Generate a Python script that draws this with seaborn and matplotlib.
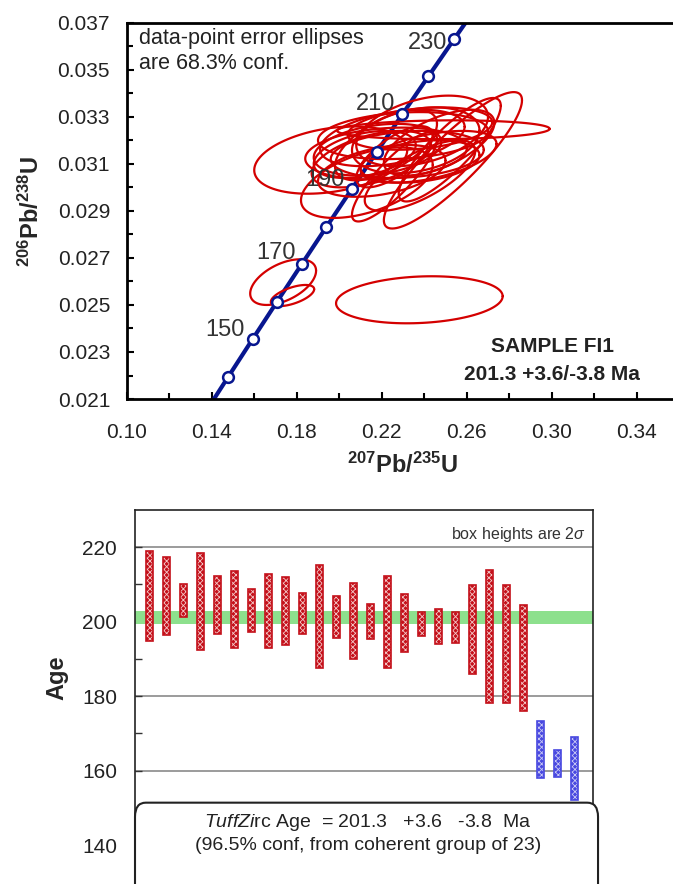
import numpy as np
import pandas as pd
import matplotlib
matplotlib.use("Agg")
import matplotlib.pyplot as plt
import seaborn as sns
from matplotlib.patches import FancyBboxPatch
from matplotlib.ticker import FixedLocator, FormatStrFormatter

# concordia markers (Ma) and their ratios
conc_age = [140, 150, 160, 170, 180, 190, 200, 210, 220, 230]
conc_207 = [0.14784, 0.15920, 0.17067, 0.18226, 0.19396, 0.20577, 0.21771, 0.22976, 0.24193, 0.25422]
conc_206 = [0.021955, 0.023542, 0.025131, 0.026722, 0.028316, 0.029912, 0.031511, 0.033113, 0.034717, 0.036323]
conc_labels = [150, 170, 190, 210, 230]
# line end points beyond the markers
line_207 = [0.14107] + conc_207 + [0.26166]
line_206 = [0.021005] + conc_206 + [0.037288]

# error ellipses: centre x, centre y, half width x, half height y, correlation
ell_cx = [0.196, 0.213, 0.222, 0.226, 0.2535, 0.249, 0.239, 0.252, 0.218, 0.225, 0.232, 0.215,
          0.236, 0.242, 0.222, 0.230, 0.212, 0.238, 0.226, 0.247, 0.238, 0.220, 0.238,
          0.2377, 0.1736, 0.1780]
ell_cy = [0.03116, 0.03020, 0.03144, 0.03045, 0.03115, 0.03245, 0.03240, 0.03160, 0.03160, 0.03210,
          0.03140, 0.03120, 0.03200, 0.03130, 0.03180, 0.03220, 0.03140, 0.03110, 0.03130, 0.03190,
          0.03250, 0.03070, 0.03050, 0.02522, 0.02597, 0.02540]
ell_sx = [0.0360, 0.0310, 0.0380, 0.0200, 0.0325, 0.0500, 0.0310, 0.0240, 0.0300, 0.0340, 0.0360,
          0.0280, 0.0300, 0.0320, 0.0240, 0.0400, 0.0240, 0.0280, 0.0180, 0.0260, 0.0340, 0.0300,
          0.0260, 0.0392, 0.0155, 0.0102]
ell_sy = [0.00143, 0.00150, 0.00110, 0.00190, 0.00290, 0.00040, 0.00150, 0.00220, 0.00110, 0.00120,
          0.00100, 0.00120, 0.00140, 0.00110, 0.00150, 0.00100, 0.00100, 0.00090, 0.00130, 0.00140,
          0.00090, 0.00110, 0.00150, 0.00100, 0.00097, 0.00045]
ell_rho = [0.30, 0.50, 0.20, 0.85, 0.88, 0.10, 0.40, 0.85, 0.30, 0.40, 0.20, 0.50, 0.30, 0.50,
           0.60, 0.20, 0.40, 0.30, 0.70, 0.60, 0.30, 0.40, 0.70, 0.15, 0.50, 0.60]

# ages with 2 sigma box limits
age_lo = [194.7, 196.3, 201.2, 192.4, 196.6, 193.0, 197.3, 193.0, 193.7, 196.8, 187.5, 195.6, 190.1,
          195.4, 187.5, 191.9, 196.2, 194.0, 194.4, 186.0, 178.1, 178.1, 176.1, 157.9, 158.2, 152.2]
age_hi = [219.1, 217.3, 210.1, 218.4, 212.3, 213.6, 208.8, 212.9, 211.9, 207.8, 215.1, 207.0, 210.3,
          204.8, 212.2, 207.4, 202.6, 203.5, 202.6, 209.8, 214.0, 209.8, 204.6, 173.2, 165.4, 168.9]
n_coherent = 23
band_lo, band_hi = 199.5, 202.9

x_ticks = [0.10, 0.14, 0.18, 0.22, 0.26, 0.30, 0.34]
y_ticks = [0.021, 0.023, 0.025, 0.027, 0.029, 0.031, 0.033, 0.035, 0.037]

sns.set_theme(style="white")
plt.rcParams["font.family"] = ["Liberation Sans", "DejaVu Sans"]
plt.rcParams["mathtext.fontset"] = "custom"
plt.rcParams["mathtext.rm"] = "Liberation Sans"
plt.rcParams["mathtext.it"] = "Liberation Sans:italic"
plt.rcParams["mathtext.bf"] = "Liberation Sans:bold"
plt.rcParams["hatch.linewidth"] = 0.6

fig = plt.figure(figsize=(6.73, 8.84), dpi=100)

# ---------------- concordia plot ----------------
ax1 = fig.add_axes([0.1883, 0.5486, 0.821, 0.4257])
t = np.linspace(0, 2 * np.pi, 120)
rows = []
for i in range(len(ell_cx)):
    ex = ell_cx[i] + ell_sx[i] * np.cos(t)
    ey = ell_cy[i] + ell_sy[i] * (ell_rho[i] * np.cos(t) + np.sqrt(1 - ell_rho[i] ** 2) * np.sin(t))
    rows.append(pd.DataFrame({"x": ex, "y": ey, "id": i}))
ell_df = pd.concat(rows)
sns.lineplot(data=ell_df, x="x", y="y", units="id", estimator=None, sort=False,
             color="#d40000", lw=1.6, ax=ax1, zorder=3)

sns.lineplot(x=line_207, y=line_206, sort=False, color="#08168f", lw=3.0, ax=ax1, zorder=2)
sns.scatterplot(x=conc_207, y=conc_206, marker="o", s=60, facecolor="white",
                edgecolor="#08168f", linewidth=1.8, ax=ax1, zorder=4)
label_offsets = {150: (-6, 7), 170: (-4, 8), 190: (-5, 7), 210: (-5, 7), 230: (-5, -3)}
for a, x, y in zip(conc_age, conc_207, conc_206):
    if a in conc_labels:
        ax1.annotate(str(a), (x, y), xytext=label_offsets[a], textcoords="offset points",
                     ha="right", va="center", fontsize=17, color="#333333", zorder=5)

ax1.set_xlim(0.10, 0.36)
ax1.set_ylim(0.021, 0.037)
ax1.xaxis.set_major_locator(FixedLocator(x_ticks))
ax1.xaxis.set_minor_locator(FixedLocator([v + 0.02 for v in x_ticks]))
ax1.yaxis.set_major_locator(FixedLocator(y_ticks))
ax1.yaxis.set_minor_locator(FixedLocator([v + 0.001 for v in y_ticks[:-1]]))
ax1.xaxis.set_major_formatter(FormatStrFormatter("%.2f"))
ax1.yaxis.set_major_formatter(FormatStrFormatter("%.3f"))
ax1.tick_params(which="both", direction="in", width=1.5, colors="black", labelcolor="#222222",
                bottom=True, left=True, top=False, right=False)
ax1.tick_params(which="major", length=5, labelsize=15)
ax1.tick_params(which="minor", length=4)
ax1.tick_params(axis="x", pad=17)
ax1.tick_params(axis="y", pad=12)
for s in ax1.spines.values():
    s.set_linewidth(2)
    s.set_color("black")
ax1.spines["right"].set_visible(False)
ax1.set_xlabel(r"$^{\mathbf{207}}$Pb/$^{\mathbf{235}}$U", fontsize=17, fontweight="bold", labelpad=8)
ax1.set_ylabel(r"$^{\mathbf{206}}$Pb/$^{\mathbf{238}}$U", fontsize=17, fontweight="bold", labelpad=10)

ax1.text(0.022, 0.985, "data-point error ellipses\nare 68.3% conf.", transform=ax1.transAxes,
         ha="left", va="top", fontsize=15.5, color="#222222", linespacing=1.25)
ax1.text(0.77, 0.14, "SAMPLE FI1", transform=ax1.transAxes, ha="center", va="center",
         fontsize=15, fontweight="bold", color="#222222")
ax1.text(0.77, 0.065, "201.3 +3.6/-3.8 Ma", transform=ax1.transAxes, ha="center", va="center",
         fontsize=15, fontweight="bold", color="#222222")

# ---------------- age boxes ----------------
ax2 = fig.add_axes([0.2006, 0.0441, 0.6805, 0.379])
pos = np.arange(1, len(age_lo) + 1)
ax2.axhspan(band_lo, band_hi, color="#8de08d", zorder=1, lw=0)
for yv in [160, 180, 220]:
    ax2.axhline(yv, color="#8a8a8a", lw=1.2, zorder=0.5)

box_df = pd.DataFrame({"pos": pos, "lo": age_lo, "hi": age_hi})
box_df["grp"] = ["coherent" if i < n_coherent else "rejected" for i in range(len(box_df))]
colors = {"coherent": "#c4101a", "rejected": "#4848e0"}
for grp, sub in box_df.groupby("grp"):
    ax2.bar(sub["pos"], sub["hi"] - sub["lo"], bottom=sub["lo"], width=0.4,
            color=colors[grp], hatch="xxxxxx", edgecolor="#f4c8c8" if grp == "coherent" else "#c8c8f4",
            linewidth=0, zorder=3)
    ax2.bar(sub["pos"], sub["hi"] - sub["lo"], bottom=sub["lo"], width=0.4,
            fill=False, edgecolor=colors[grp], linewidth=1.2, zorder=4)

ax2.set_xlim(0.16, 27.1)
ax2.set_ylim(140, 230)
ax2.set_xticks([])
ax2.yaxis.set_major_locator(FixedLocator([140, 160, 180, 200, 220]))
ax2.yaxis.set_minor_locator(FixedLocator([150, 170, 190, 210]))
ax2.tick_params(axis="y", which="both", direction="in", left=True, width=1, colors="#333333",
                labelcolor="#222222")
ax2.tick_params(axis="y", which="major", length=5, labelsize=15, pad=13)
ax2.tick_params(axis="y", which="minor", length=5)
for s in ax2.spines.values():
    s.set_linewidth(1.2)
    s.set_color("#222222")
ax2.spines["bottom"].set_visible(False)
ax2.set_ylabel("Age", fontsize=17, fontweight="bold", labelpad=10)
ax2.text(0.985, 0.955, r"box heights are 2$\sigma$", transform=ax2.transAxes, ha="right", va="top",
         fontsize=11.5, color="#333333")

note = FancyBboxPatch((0.2006, -0.05), 0.688, 0.142, transform=fig.transFigure,
                      boxstyle="round,pad=0,rounding_size=0.016", facecolor="white",
                      edgecolor="#222222", linewidth=1.5, zorder=10, clip_on=False)
fig.patches.append(note)
fig.text(0.547, 0.070, r"$\mathit{TuffZi}$rc Age  = 201.3   +3.6   -3.8  Ma", ha="center", va="center",
         fontsize=14, color="#222222", zorder=11)
fig.text(0.547, 0.043, "(96.5% conf, from coherent group of 23)", ha="center", va="center",
         fontsize=14, color="#222222", zorder=11)

fig.savefig("out.png", dpi=100)
